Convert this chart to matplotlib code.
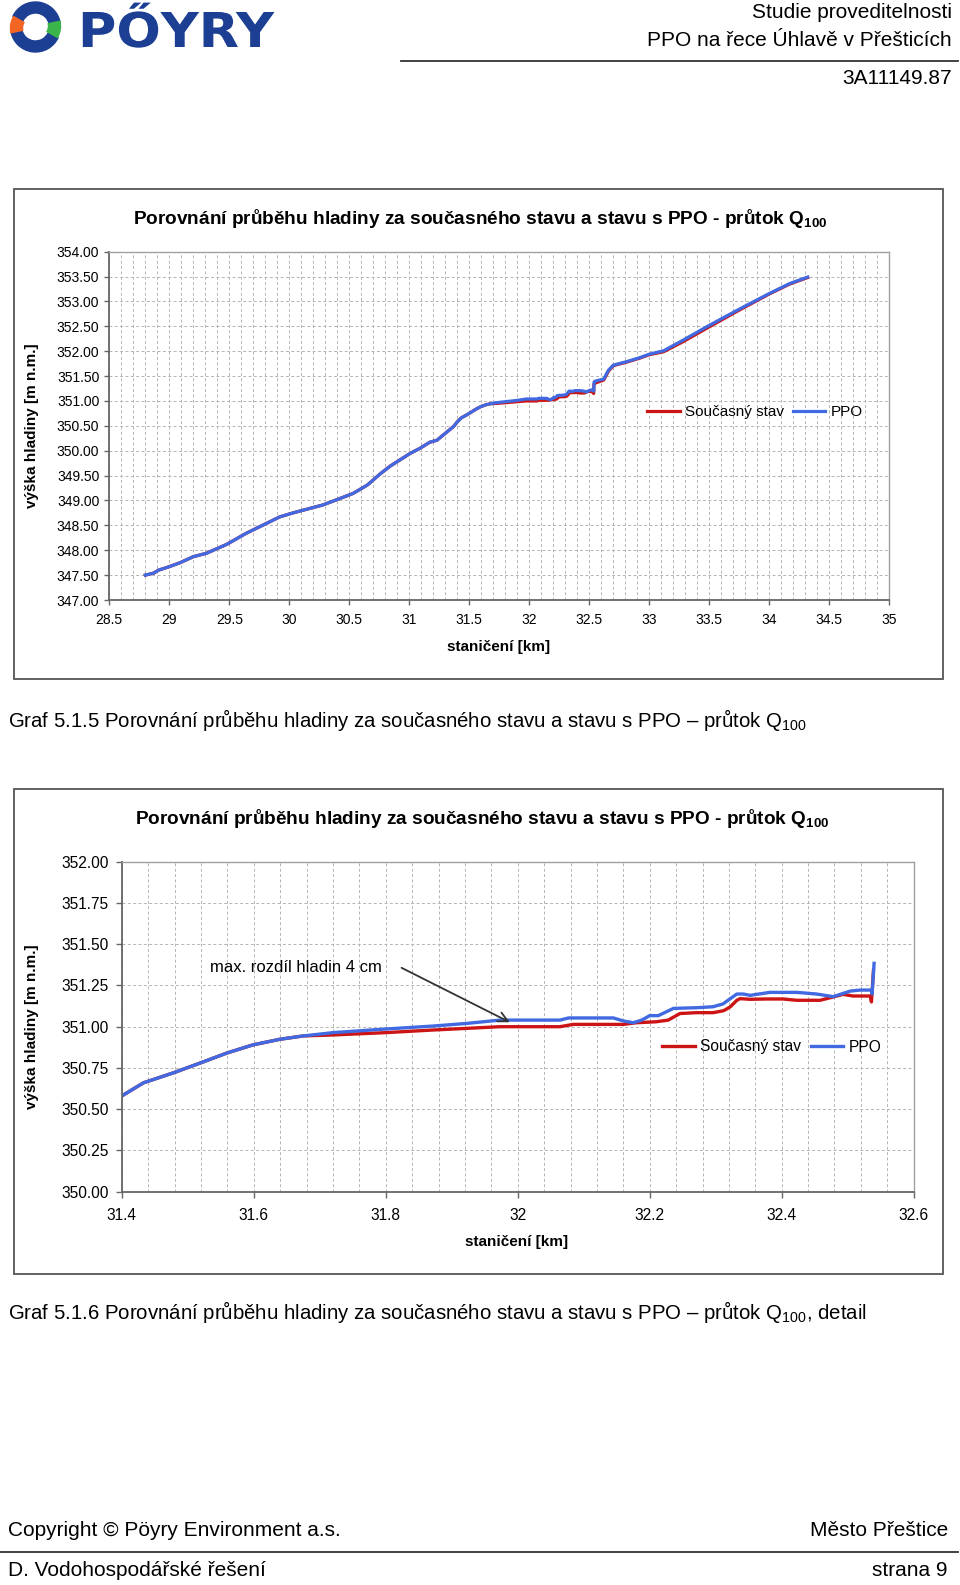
import numpy as np
import matplotlib
matplotlib.use("Agg")
import matplotlib.pyplot as plt
from matplotlib.patches import Rectangle, Wedge, PathPatch
from matplotlib.textpath import TextPath
from matplotlib.font_manager import FontProperties
from matplotlib.transforms import Affine2D

plt.rcParams['font.family'] = ['Liberation Sans', 'DejaVu Sans']
plt.rcParams['mathtext.fontset'] = 'custom'
plt.rcParams['mathtext.rm'] = 'Liberation Sans'
plt.rcParams['mathtext.bf'] = 'Liberation Sans:bold'

# --- data: stationing [km] and water level [m n.m.] ---
# lower reach, both states identical
km_low = [28.80, 28.87, 28.91, 29.00, 29.09, 29.20, 29.31, 29.48, 29.64, 29.81,
          29.92, 30.03, 30.17, 30.28, 30.40, 30.53, 30.65, 30.76, 30.84, 31.01,
          31.09, 31.17, 31.23, 31.28, 31.37]
lvl_low = [347.50, 347.54, 347.60, 347.67, 347.75, 347.87, 347.94, 348.12, 348.34, 348.54,
           348.67, 348.75, 348.84, 348.91, 349.02, 349.14, 349.31, 349.54, 349.69, 349.95,
           350.05, 350.17, 350.21, 350.31, 350.49]

# detail reach - soucasny stav
km_cur = [31.400, 31.433, 31.478, 31.519, 31.559, 31.599, 31.640, 31.675, 31.720, 31.800,
          31.872, 31.923, 31.973, 32.064, 32.084, 32.160, 32.180, 32.210, 32.228, 32.246,
          32.271, 32.296, 32.312, 32.322, 32.332, 32.337, 32.352, 32.377, 32.402, 32.423,
          32.458, 32.478, 32.493, 32.508, 32.534, 32.536, 32.539]
lvl_cur = [350.58, 350.66, 350.72, 350.78, 350.84, 350.89, 350.924, 350.944, 350.950, 350.964,
           350.980, 350.990, 351.000, 351.000, 351.014, 351.014, 351.024, 351.030, 351.040, 351.080,
           351.085, 351.085, 351.097, 351.120, 351.160, 351.170, 351.166, 351.168, 351.168, 351.160,
           351.160, 351.180, 351.196, 351.186, 351.186, 351.150, 351.340]

# detail reach - PPO
km_ppo = [31.400, 31.433, 31.478, 31.519, 31.559, 31.599, 31.640, 31.675, 31.720, 31.800,
          31.872, 31.923, 31.973, 32.064, 32.077, 32.145, 32.160, 32.175, 32.188, 32.200,
          32.213, 32.236, 32.271, 32.296, 32.311, 32.332, 32.342, 32.352, 32.382, 32.423,
          32.453, 32.478, 32.504, 32.519, 32.536, 32.537, 32.540]
lvl_ppo = [350.58, 350.66, 350.72, 350.78, 350.84, 350.89, 350.924, 350.944, 350.964, 350.986,
           351.004, 351.020, 351.040, 351.040, 351.053, 351.053, 351.035, 351.024, 351.040, 351.067,
           351.067, 351.111, 351.115, 351.121, 351.138, 351.198, 351.198, 351.190, 351.208, 351.208,
           351.198, 351.182, 351.216, 351.222, 351.222, 351.198, 351.384]

# upper reach
km_up = [32.55, 32.62, 32.66, 32.70, 32.81, 32.92, 33.00, 33.12, 33.28, 33.50,
         33.73, 34.00, 34.17, 34.32]
lvl_up_cur = [351.36, 351.42, 351.60, 351.71, 351.78, 351.86, 351.93, 351.99, 352.19, 352.49,
              352.80, 353.15, 353.35, 353.48]
lvl_up_ppo = [351.40, 351.44, 351.62, 351.72, 351.79, 351.87, 351.94, 352.01, 352.22, 352.52,
              352.82, 353.16, 353.36, 353.49]

series_names = ['Současný stav', 'PPO']
red = '#cc1414'
blue = '#4169e1'

x_cur = np.array(km_low + km_cur + km_up)
y_cur = np.array(lvl_low + lvl_cur + lvl_up_cur)
x_ppo = np.array(km_low + km_ppo + km_up)
y_ppo = np.array(lvl_low + lvl_ppo + lvl_up_ppo)

W, H = 960, 1585
fig = plt.figure(figsize=(W / 100, H / 100), dpi=100)

page = fig.add_axes([0, 0, 1, 1], zorder=0)
page.set_xlim(0, W)
page.set_ylim(H, 0)
page.axis('off')


def px_axes(l, t, r, b):
    return fig.add_axes([l / W, 1 - b / H, (r - l) / W, (b - t) / H], zorder=2)


# --- header ---
logo_blue = '#1c3f94'
cx, cy = 35.5, 27
page.add_patch(Wedge((cx, cy), 25, 205, 350, width=11, color=logo_blue))
page.add_patch(Wedge((cx, cy), 25, 25, 170, width=11, color=logo_blue))
page.add_patch(Wedge((cx - 2, cy + 1), 23, 168, 210, width=12, color='#f26522'))
page.add_patch(Wedge((cx + 2, cy - 1), 23, 348, 30, width=12, color='#39b54a'))
tp = TextPath((0, 0), 'PŐYRY', size=48, prop=FontProperties(family='DejaVu Sans', weight='bold'))
page.add_patch(PathPatch(tp, transform=Affine2D().scale(1.09, -1.0).translate(78, 47) + page.transData,
                         color=logo_blue, lw=0))

page.text(952, 13, 'Studie proveditelnosti', fontsize=15, ha='right', va='center')
page.text(952, 41, 'PPO na řece Úhlavě v Přešticích', fontsize=15, ha='right', va='center')
page.plot([401, 958], [61, 61], color='#333333', lw=1.3)
page.text(952, 78, '3A11149.87', fontsize=15, ha='right', va='center')

# --- footer ---
page.text(8, 1531, 'Copyright © Pöyry Environment a.s.', fontsize=15, ha='left', va='center')
page.text(948, 1531, 'Město Přeštice', fontsize=15, ha='right', va='center')
page.plot([0, 958], [1552, 1552], color='#333333', lw=1.3)
page.text(8, 1570, 'D. Vodohospodářské řešení', fontsize=15, ha='left', va='center')
page.text(948, 1570, 'strana 9', fontsize=15, ha='right', va='center')

title = 'Porovnání průběhu hladiny za současného stavu a stavu s PPO - průtok Q$_{\\mathbf{100}}$'


def style_axes(ax, tick_fs, ticklen, ypad, xpad):
    ax.set_axisbelow(True)
    for s in ['left', 'bottom']:
        ax.spines[s].set_color('#666666')
        ax.spines[s].set_linewidth(1.3)
    for s in ['top', 'right']:
        ax.spines[s].set_color('#a0a0a0')
        ax.spines[s].set_linewidth(1.0)
    ax.tick_params(axis='both', which='major', direction='out', length=ticklen,
                   width=1.0, color='#666666', labelsize=tick_fs)
    ax.tick_params(axis='y', pad=ypad)
    ax.tick_params(axis='x', pad=xpad)
    ax.tick_params(axis='x', which='minor', length=0)
    ax.grid(which='major', axis='y', color='#b4b4b4', lw=0.7, ls=(0, (3, 2.5)))
    ax.grid(which='both', axis='x', color='#b4b4b4', lw=0.7, ls=(0, (3, 2.5)))


# --- chart 1 ---
page.add_patch(Rectangle((14, 188.5), 929, 490.5, fill=False, ec='#555555', lw=1.3))
ax1 = px_axes(109.3, 251.7, 889.3, 600)
ax1.plot(x_cur, y_cur, color=red, lw=2.3, label=series_names[0])
ax1.plot(x_ppo, y_ppo, color=blue, lw=2.3, label=series_names[1])
ax1.set_xlim(28.5, 35)
ax1.set_ylim(347, 354)
xt1 = np.round(np.arange(28.5, 35.01, 0.5), 2)
ax1.set_xticks(xt1)
ax1.set_xticklabels(['%g' % v for v in xt1])
ax1.set_xticks(np.round(np.arange(28.5, 35.01, 0.1), 2), minor=True)
yt1 = np.round(np.arange(347, 354.01, 0.5), 2)
ax1.set_yticks(yt1)
ax1.set_yticklabels(['%.2f' % v for v in yt1])
style_axes(ax1, 10, 3.6, 3.6, 5.8)
ax1.legend(loc='center', bbox_to_anchor=(755 / W, 1 - 412 / H), bbox_transform=fig.transFigure,
           ncol=2, frameon=False, fontsize=11, handlelength=2.1, handletextpad=0.35,
           columnspacing=0.6, borderpad=0, borderaxespad=0)
page.text(480, 219, title, fontsize=13.7, fontweight='bold', ha='center', va='center')
page.text(499, 647, 'staničení [km]', fontsize=11, fontweight='bold', ha='center', va='center')
page.text(32, 426, 'výška hladiny [m n.m.]', fontsize=11, fontweight='bold', rotation=90,
          ha='center', va='center')
page.text(8, 720, 'Graf 5.1.5 Porovnání průběhu hladiny za současného stavu a stavu s PPO – průtok Q$_{100}$',
          fontsize=14.7, ha='left', va='center')

# --- chart 2 (detail) ---
page.add_patch(Rectangle((14, 788.5), 929, 485.5, fill=False, ec='#555555', lw=1.3))
ax2 = px_axes(121.7, 861.7, 913.7, 1191.7)
m_cur = x_cur <= 32.541
m_ppo = x_ppo <= 32.541
ax2.plot(x_cur[m_cur], y_cur[m_cur], color=red, lw=2.4, label=series_names[0])
ax2.plot(x_ppo[m_ppo], y_ppo[m_ppo], color=blue, lw=2.4, label=series_names[1])
ax2.set_xlim(31.4, 32.6)
ax2.set_ylim(350, 352)
xt2 = np.round(np.arange(31.4, 32.61, 0.2), 2)
ax2.set_xticks(xt2)
ax2.set_xticklabels(['%g' % v for v in xt2])
ax2.set_xticks(np.round(np.arange(31.4, 32.61, 0.04), 2), minor=True)
yt2 = np.round(np.arange(350, 352.01, 0.25), 2)
ax2.set_yticks(yt2)
ax2.set_yticklabels(['%.2f' % v for v in yt2])
style_axes(ax2, 11.2, 4.3, 5, 7.7)
ax2.legend(loc='center', bbox_to_anchor=(772 / W, 1 - 1047 / H), bbox_transform=fig.transFigure,
           ncol=2, frameon=False, fontsize=11.2, handlelength=2.1, handletextpad=0.35,
           columnspacing=0.6, borderpad=0, borderaxespad=0)
ax2.text(31.534, 351.36, 'max. rozdíl hladin 4 cm', fontsize=12, ha='left', va='center')
ax2.annotate('', xy=(31.988, 351.027), xytext=(31.824, 351.357),
             arrowprops=dict(arrowstyle='->,head_length=0.7,head_width=0.35', color='#333333',
                             lw=1.3, shrinkA=0, shrinkB=0))
page.text(482, 819, title, fontsize=13.7, fontweight='bold', ha='center', va='center')
page.text(517, 1242, 'staničení [km]', fontsize=11, fontweight='bold', ha='center', va='center')
page.text(32, 1027, 'výška hladiny [m n.m.]', fontsize=11, fontweight='bold', rotation=90,
          ha='center', va='center')
page.text(8, 1312, 'Graf 5.1.6 Porovnání průběhu hladiny za současného stavu a stavu s PPO – průtok Q$_{100}$, detail',
          fontsize=14.7, ha='left', va='center')

fig.savefig('out.png', dpi=100)
